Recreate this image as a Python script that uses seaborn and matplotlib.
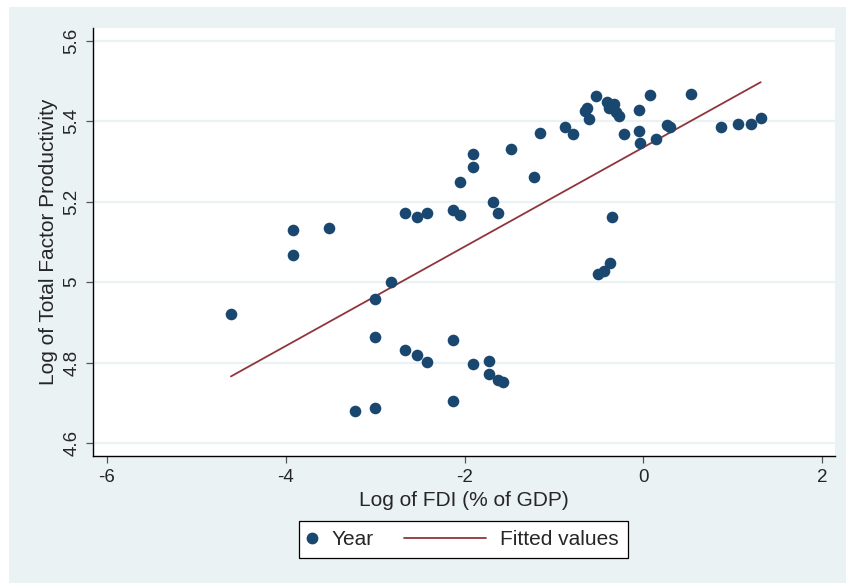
import numpy as np
import pandas as pd
import matplotlib
matplotlib.use("Agg")
import matplotlib.pyplot as plt
from matplotlib.patches import Rectangle
from matplotlib.lines import Line2D
from matplotlib.legend_handler import HandlerLine2D
import seaborn as sns

# Log of FDI (% of GDP) and log of total factor productivity, one point per year
log_fdi = [
    -4.613, -3.922, -3.922, -3.516, -2.669, -2.535, -2.416, -2.132, -2.050, -1.678,
    -1.622, -2.050, -2.826, -3.001, -3.001, -2.669, -2.535, -2.416, -2.132, -1.908,
    -1.729, -1.729, -1.622, -1.573, -3.229, -3.001, -2.132, -1.908, -1.908, -1.483,
    -1.219, -1.155, -0.879, -0.789, -0.652, -0.626, -0.610, -0.525, -0.402, -0.383,
    -0.331, -0.308, -0.275, -0.215, -0.047, -0.047, -0.036, 0.076, 0.139, 0.262,
    0.299, 0.538, 0.867, 1.060, 1.206, 1.314, -0.346, -0.372, -0.436, -0.510,
]
log_tfp = [
    4.920, 5.129, 5.067, 5.136, 5.171, 5.163, 5.172, 5.179, 5.166, 5.200,
    5.171, 5.248, 5.000, 4.958, 4.864, 4.831, 4.820, 4.801, 4.857, 4.797,
    4.805, 4.773, 4.758, 4.752, 4.680, 4.688, 4.704, 5.318, 5.286, 5.332,
    5.262, 5.370, 5.387, 5.368, 5.426, 5.434, 5.406, 5.462, 5.448, 5.433,
    5.443, 5.422, 5.413, 5.369, 5.428, 5.375, 5.346, 5.465, 5.356, 5.390,
    5.387, 5.469, 5.386, 5.393, 5.393, 5.408, 5.163, 5.049, 5.029, 5.020,
]
x_ticks = [-6, -4, -2, 0, 2]
y_ticks = [4.6, 4.8, 5.0, 5.2, 5.4, 5.6]
y_tick_labels = ["4.6", "4.8", "5", "5.2", "5.4", "5.6"]

df = pd.DataFrame({"fdi": log_fdi, "tfp": log_tfp})

# Linear fit across the observed FDI range
slope, intercept = np.polyfit(df["fdi"], df["tfp"], 1)
fit = pd.DataFrame({"fdi": [df["fdi"].min(), df["fdi"].max()]})
fit["tfp"] = intercept + slope * fit["fdi"]

sns.set_theme(style="white")
plt.rcParams["font.family"] = ["Liberation Sans", "DejaVu Sans"]

NAVY = "#1a476f"
MAROON = "#90353b"
BG = "#eaf2f3"

W, H = 846, 583
fig = plt.figure(figsize=(W / 100, H / 100), dpi=100, facecolor="white")
fig.patches.append(Rectangle((9 / W, 0), 1 - 9 / W, 1 - 7 / H,
                             transform=fig.transFigure, facecolor=BG,
                             edgecolor="none", zorder=-10))

ax = fig.add_axes([93 / W, 1 - 456 / H, 742 / W, 428 / H])
ax.set_facecolor("white")

sns.scatterplot(data=df, x="fdi", y="tfp", ax=ax, color=NAVY, s=70,
                linewidth=0, zorder=3, legend=False)
sns.lineplot(data=fit, x="fdi", y="tfp", ax=ax, color=MAROON, linewidth=1.3,
             zorder=2, legend=False)

ax.set_xlim(-6.157, 2.145)
ax.set_ylim(4.568, 5.632)
ax.set_xticks(x_ticks)
ax.set_xticklabels([str(t) for t in x_ticks], fontsize=13.5)
ax.set_yticks(y_ticks)
ax.set_yticklabels(y_tick_labels, fontsize=13.5, rotation=90, va="center")

for t in y_ticks:
    ax.axhline(t, color=BG, linewidth=1.6, zorder=1)

for side in ("top", "right"):
    ax.spines[side].set_visible(False)
for side in ("left", "bottom"):
    ax.spines[side].set_color("black")
    ax.spines[side].set_linewidth(1.0)

ax.tick_params(axis="both", which="major", length=5, width=0.9,
               color="#555555", pad=4, left=True, bottom=True)

ax.set_xlabel("Log of FDI (% of GDP)", fontsize=15, labelpad=4)
ax.set_ylabel("Log of Total Factor Productivity", fontsize=15, labelpad=4)


class LongKeyLine(HandlerLine2D):
    """Legend key whose line extends leftwards past the narrow handle box."""

    def __init__(self, length_em, **kw):
        super().__init__(**kw)
        self.length_em = length_em

    def create_artists(self, legend, orig_handle, xdescent, ydescent,
                       width, height, fontsize, trans):
        y = (height - ydescent) / 2 - 0 * ydescent
        line = Line2D([width - self.length_em * fontsize - xdescent, width - xdescent],
                      [y, y])
        self.update_prop(line, orig_handle, legend)
        line.set_transform(trans)
        return [line]


point_key = Line2D([0], [0], marker="o", linestyle="none", markersize=8.5,
                   markerfacecolor=NAVY, markeredgewidth=0)
fit_key = Line2D([0], [0], color=MAROON, linewidth=1.3)

leg = fig.legend([point_key, fit_key], ["Year", "Fitted values"], ncol=2,
                 loc="center", bbox_to_anchor=(463.5 / W, 1 - 539.5 / H),
                 fontsize=15, frameon=True, fancybox=False,
                 handlelength=0.4, handletextpad=0.7, columnspacing=5.0,
                 borderpad=0.44,
                 handler_map={fit_key: LongKeyLine(3.94)})
leg.get_frame().set_edgecolor("black")
leg.get_frame().set_linewidth(0.9)
leg.get_frame().set_facecolor("white")
leg.get_frame().set_alpha(1)

fig.savefig("out.png", dpi=100, facecolor=fig.get_facecolor())
